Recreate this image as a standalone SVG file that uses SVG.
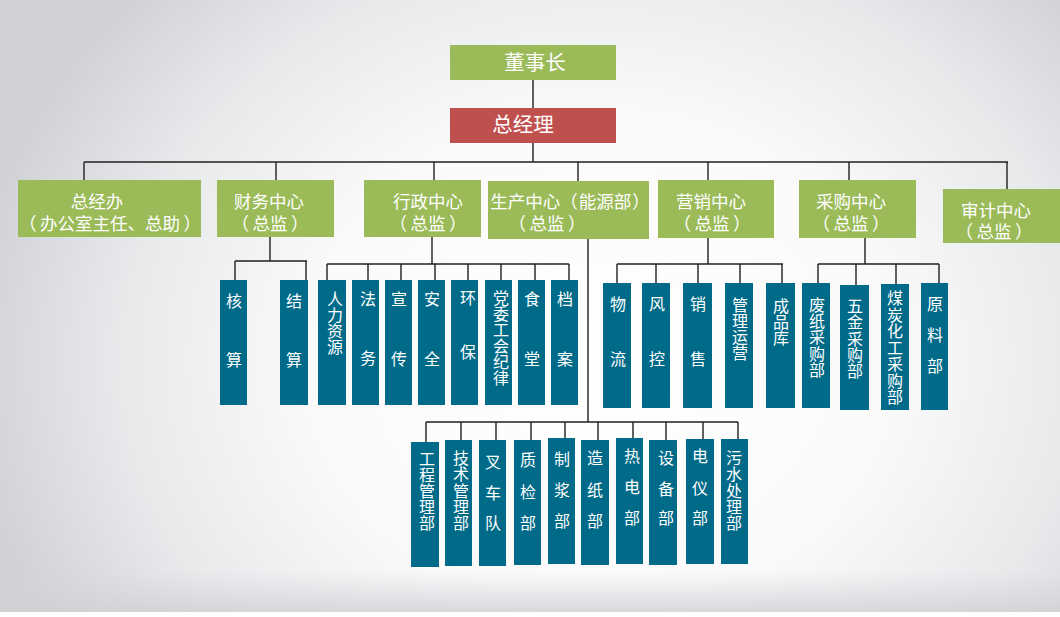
<svg xmlns="http://www.w3.org/2000/svg" width="1060" height="617" viewBox="0 0 1060 617">
<defs>
<radialGradient id="bg" gradientUnits="userSpaceOnUse" cx="600" cy="360" r="640" gradientTransform="translate(600 360) scale(1 0.85) translate(-600 -360)">
<stop offset="0" stop-color="#ffffff"/>
<stop offset="0.45" stop-color="#fafafb"/>
<stop offset="0.75" stop-color="#e8e9eb"/>
<stop offset="1" stop-color="#d0d1d5"/>
</radialGradient>
<linearGradient id="bot" x1="0" y1="0" x2="0" y2="1">
<stop offset="0" stop-color="#d6d7db" stop-opacity="0"/>
<stop offset="1" stop-color="#d0d1d5" stop-opacity="0.8"/>
</linearGradient>
<style>
.g{fill:#9BBB59}
.r{fill:#C0504D}
.b{fill:#006A89}
text{font-family:"Noto Sans CJK SC","Noto Sans",sans-serif;fill:#ffffff;text-anchor:middle;dominant-baseline:central}
.t1{font-size:20.5px}
.t2{font-size:17.5px}
.t3{font-size:16px}
.c{stroke:#231f20;stroke-width:1.4;fill:none}
</style>
</defs>
<rect x="0" y="0" width="1060" height="617" fill="#ffffff"/>
<rect x="0" y="0" width="1060" height="612" fill="url(#bg)"/>
<rect x="0" y="570" width="1060" height="42" fill="url(#bot)"/>

<g id="connectors" class="c">
<path d="M533 80V108M533 143V162M84 162H1008"/>
<path d="M84 162V180M276 162V180M434 162V180M578 162V181M708 162V180M849 162V180M1007 162V189"/>
<path d="M270 237V261M235 261H307M235 261V280M306 261V280"/>
<path d="M432 237V264M327 264H569M327 264V280M368 264V280M401 264V280M435 264V280M468 264V280M501 264V280M535 264V280M569 264V280"/>
<path d="M588 238V422M426 422H738M426 422V442M461 422V440M496 422V440M531 422V440M565 422V438M598 422V440M633 422V438M666 422V440M703 422V439M738 422V439"/>
<path d="M708 237V264M617 264H783M617 264V283M656 264V283M698 264V283M740 264V283M782 264V283"/>
<path d="M865 237V264M818 264H939M818 264V283M856 264V285M896 264V284M939 264V283"/>
</g>

<g id="chairman"><rect class="g" x="450" y="45" width="166" height="35"/><text class="t1" x="535" y="61">董事长</text></g>
<g id="gm"><rect class="r" x="450" y="108" width="166" height="35"/><text class="t1" x="523" y="123">总经理</text></g>

<g id="zongjingban"><rect class="g" x="18" y="180" width="183" height="57"/><text class="t2"><tspan x="97" y="200">总经办</tspan><tspan x="110" y="222">（&#8201;办公室主任、总助&#8201;）</tspan></text></g>
<g id="caiwu"><rect class="g" x="217" y="180" width="117" height="57"/><text class="t2"><tspan x="269" y="200">财务中心</tspan><tspan x="270" y="222">（&#8201;总监&#8201;）</tspan></text></g>
<g id="xingzheng"><rect class="g" x="364" y="180" width="117" height="57"/><text class="t2"><tspan x="428" y="200">行政中心</tspan><tspan x="428" y="222">（&#8201;总监&#8201;）</tspan></text></g>
<g id="shengchan"><rect class="g" x="488" y="181" width="161" height="58"/><text class="t2"><tspan x="570" y="200">生产中心（&#8202;能源部&#8202;）</tspan><tspan x="547" y="222">（&#8201;总监&#8201;）</tspan></text></g>
<g id="yingxiao"><rect class="g" x="658" y="180" width="116" height="58"/><text class="t2"><tspan x="711" y="200">营销中心</tspan><tspan x="712" y="222">（&#8201;总监&#8201;）</tspan></text></g>
<g id="caigou"><rect class="g" x="799" y="180" width="117" height="58"/><text class="t2"><tspan x="851" y="200">采购中心</tspan><tspan x="851" y="222">（&#8201;总监&#8201;）</tspan></text></g>
<g id="shenji"><rect class="g" x="943" y="189" width="117" height="54"/><text class="t2"><tspan x="996" y="209">审计中心</tspan><tspan x="994" y="230">（&#8201;总监&#8201;）</tspan></text></g>

<g id="he"><rect class="b" x="220" y="280" width="27" height="125"/><text class="t3"><tspan x="234" y="300">核</tspan><tspan x="234" y="359">算</tspan></text></g>
<g id="jie"><rect class="b" x="280" y="280" width="28" height="125"/><text class="t3"><tspan x="294" y="300">结</tspan><tspan x="294" y="359">算</tspan></text></g>

<g id="renli"><rect class="b" x="318" y="280" width="28" height="125"/><text class="t3"><tspan x="335" y="298">人</tspan><tspan x="335" y="314">力</tspan><tspan x="335" y="330">资</tspan><tspan x="335" y="346">源</tspan></text></g>
<g id="fawu"><rect class="b" x="352" y="280" width="27" height="125"/><text class="t3"><tspan x="368" y="298">法</tspan><tspan x="368" y="357">务</tspan></text></g>
<g id="xuanchuan"><rect class="b" x="385" y="280" width="27" height="125"/><text class="t3"><tspan x="399" y="298">宣</tspan><tspan x="399" y="358">传</tspan></text></g>
<g id="anquan"><rect class="b" x="418" y="280" width="27" height="125"/><text class="t3"><tspan x="432" y="298">安</tspan><tspan x="432" y="358">全</tspan></text></g>
<g id="huanbao"><rect class="b" x="451" y="280" width="27" height="125"/><text class="t3"><tspan x="468" y="297">环</tspan><tspan x="468" y="351">保</tspan></text></g>
<g id="dangwei"><rect class="b" x="485" y="280" width="27" height="125"/><text class="t3"><tspan x="501" y="297">党</tspan><tspan x="501" y="313">委</tspan><tspan x="501" y="329">工</tspan><tspan x="501" y="345">会</tspan><tspan x="501" y="361">纪</tspan><tspan x="501" y="377">律</tspan></text></g>
<g id="shitang"><rect class="b" x="518" y="280" width="27" height="125"/><text class="t3"><tspan x="532" y="298">食</tspan><tspan x="532" y="358">堂</tspan></text></g>
<g id="dangan"><rect class="b" x="551" y="280" width="27" height="125"/><text class="t3"><tspan x="565" y="298">档</tspan><tspan x="565" y="358">案</tspan></text></g>

<g id="wuliu"><rect class="b" x="603" y="283" width="28" height="125"/><text class="t3"><tspan x="618" y="303">物</tspan><tspan x="618" y="358">流</tspan></text></g>
<g id="fengkong"><rect class="b" x="642" y="283" width="28" height="125"/><text class="t3"><tspan x="657" y="303">风</tspan><tspan x="657" y="358">控</tspan></text></g>
<g id="xiaoshou"><rect class="b" x="683" y="283" width="29" height="125"/><text class="t3"><tspan x="698" y="303">销</tspan><tspan x="698" y="358">售</tspan></text></g>
<g id="guanli"><rect class="b" x="725" y="283" width="28" height="125"/><text class="t3"><tspan x="740" y="304">管</tspan><tspan x="740" y="320">理</tspan><tspan x="740" y="336">运</tspan><tspan x="740" y="352">营</tspan></text></g>
<g id="chengpin"><rect class="b" x="766" y="283" width="29" height="125"/><text class="t3"><tspan x="781" y="305">成</tspan><tspan x="781" y="321">品</tspan><tspan x="781" y="337">库</tspan></text></g>

<g id="feizhi"><rect class="b" x="802" y="283" width="28" height="125"/><text class="t3"><tspan x="817" y="304">废</tspan><tspan x="817" y="320">纸</tspan><tspan x="817" y="336">采</tspan><tspan x="817" y="353">购</tspan><tspan x="817" y="369">部</tspan></text></g>
<g id="wujin"><rect class="b" x="840" y="285" width="29" height="125"/><text class="t3"><tspan x="855" y="305">五</tspan><tspan x="855" y="321">金</tspan><tspan x="855" y="338">采</tspan><tspan x="855" y="354">购</tspan><tspan x="855" y="370">部</tspan></text></g>
<g id="meitan"><rect class="b" x="881" y="284" width="28" height="126"/><text class="t3"><tspan x="895" y="297">煤</tspan><tspan x="895" y="314">炭</tspan><tspan x="895" y="330">化</tspan><tspan x="895" y="347">工</tspan><tspan x="895" y="363">采</tspan><tspan x="895" y="380">购</tspan><tspan x="895" y="396">部</tspan></text></g>
<g id="yuanliao"><rect class="b" x="921" y="283" width="27" height="127"/><text class="t3"><tspan x="935" y="303">原</tspan><tspan x="935" y="334">料</tspan><tspan x="935" y="365">部</tspan></text></g>

<g id="gongcheng"><rect class="b" x="411" y="442" width="28" height="125"/><text class="t3"><tspan x="427" y="458">工</tspan><tspan x="427" y="474">程</tspan><tspan x="427" y="490">管</tspan><tspan x="427" y="506">理</tspan><tspan x="427" y="522">部</tspan></text></g>
<g id="jishu"><rect class="b" x="445" y="440" width="27" height="126"/><text class="t3"><tspan x="461" y="457">技</tspan><tspan x="461" y="473">术</tspan><tspan x="461" y="490">管</tspan><tspan x="461" y="506">理</tspan><tspan x="461" y="522">部</tspan></text></g>
<g id="chache"><rect class="b" x="479" y="440" width="27" height="126"/><text class="t3"><tspan x="493" y="461">叉</tspan><tspan x="493" y="492">车</tspan><tspan x="493" y="522">队</tspan></text></g>
<g id="zhijian"><rect class="b" x="514" y="440" width="27" height="125"/><text class="t3"><tspan x="528" y="459">质</tspan><tspan x="528" y="491">检</tspan><tspan x="528" y="522">部</tspan></text></g>
<g id="zhijiang"><rect class="b" x="548" y="438" width="27" height="126"/><text class="t3"><tspan x="562" y="458">制</tspan><tspan x="562" y="489">浆</tspan><tspan x="562" y="520">部</tspan></text></g>
<g id="zaozhi"><rect class="b" x="581" y="440" width="28" height="125"/><text class="t3"><tspan x="595" y="457">造</tspan><tspan x="595" y="489">纸</tspan><tspan x="595" y="520">部</tspan></text></g>
<g id="piredian"><rect class="b" x="616" y="438" width="27" height="126"/><text class="t3"><tspan x="632" y="455">热</tspan><tspan x="632" y="486">电</tspan><tspan x="632" y="517">部</tspan></text></g>
<g id="shebei"><rect class="b" x="649" y="440" width="28" height="125"/><text class="t3"><tspan x="666" y="457">设</tspan><tspan x="666" y="488">备</tspan><tspan x="666" y="517">部</tspan></text></g>
<g id="dianyi"><rect class="b" x="686" y="439" width="28" height="125"/><text class="t3"><tspan x="700" y="455">电</tspan><tspan x="700" y="487">仪</tspan><tspan x="700" y="517">部</tspan></text></g>
<g id="wushui"><rect class="b" x="721" y="439" width="27" height="125"/><text class="t3"><tspan x="734" y="457">污</tspan><tspan x="734" y="473">水</tspan><tspan x="734" y="490">处</tspan><tspan x="734" y="506">理</tspan><tspan x="734" y="522">部</tspan></text></g>
</svg>
